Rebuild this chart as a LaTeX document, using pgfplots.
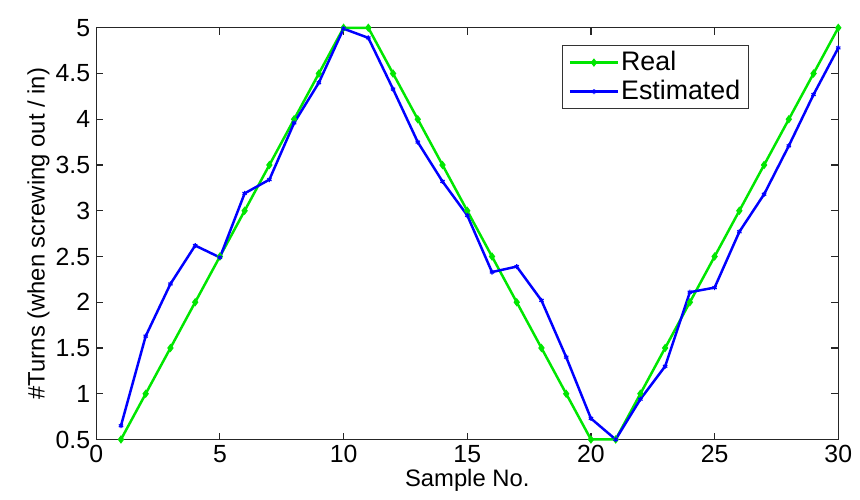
\documentclass[border=0pt]{standalone}
\usepackage{fontspec}
\setmainfont{Liberation Sans}
\usepackage{pgfplots}
\pgfplotsset{compat=1.18}
\definecolor{mgreen}{RGB}{0,230,0}
\definecolor{mblue}{RGB}{0,0,255}
\begin{document}
\fontsize{24}{28}\selectfont
\begin{tikzpicture}
\path (-97pt,-59pt) rectangle (763pt,443pt);
\begin{axis}[
  at={(0pt,0pt)}, anchor=south west,
  scale only axis, width=748pt, height=415pt,
  xmin=0, xmax=30, ymin=0.5, ymax=5,
  xtick={0,5,...,30},
  ytick={0.5,1,...,5},
  yticklabels={0.5,1,1.5,2,2.5,3,3.5,4,4.5,5},
  tick align=inside, major tick length=7pt,
  xtick pos=both, ytick pos=both,
  axis line style={line width=1.2pt, black!85},
  tick style={line width=1.2pt, black!85},
  /pgf/number format/assume math mode=true,
  tick label style={font=\fontsize{25}{29}\selectfont},
  label style={font=\fontsize{24}{28}\selectfont},
  xlabel={Sample No.},
  ylabel={\#Turns (when screwing out / in)},
  xlabel style={yshift=10pt},
  ylabel style={yshift=-10pt},
  xticklabel style={yshift=2pt},
  yticklabel style={xshift=2pt},
  legend style={at={(0.628,0.959)}, anchor=north west, font=\fontsize{27}{31}\selectfont, draw=black!80, line width=1pt, inner xsep=6pt, inner ysep=4pt, row sep=2pt},
  legend cell align=left,
  legend image post style={line width=2.5pt},
  legend image code/.code={\draw[#1] (0cm,0cm) -- (1.7cm,0cm) plot[only marks] coordinates {(0.85cm,0cm)};},
  clip=false,
]
\addplot[mgreen, line width=2.5pt, mark=diamond*, mark size=3.5pt, mark options={line width=1pt}] coordinates {
(1,0.5)(2,1)(3,1.5)(4,2)(5,2.5)(6,3)(7,3.5)(8,4)(9,4.5)(10,5)
(11,5)(12,4.5)(13,4)(14,3.5)(15,3)(16,2.5)(17,2)(18,1.5)(19,1)(20,0.5)
(21,0.5)(22,1)(23,1.5)(24,2)(25,2.5)(26,3)(27,3.5)(28,4)(29,4.5)(30,5)};
\addlegendentry{Real}
\addplot[mblue, line width=2.5pt, mark=asterisk, mark size=2.5pt, mark options={line width=1.2pt}] coordinates {
(1,0.65)(2,1.63)(3,2.20)(4,2.62)(5,2.49)(6,3.19)(7,3.34)(8,3.96)(9,4.40)(10,4.99)
(11,4.89)(12,4.33)(13,3.75)(14,3.32)(15,2.95)(16,2.33)(17,2.39)(18,2.02)(19,1.40)(20,0.73)
(21,0.50)(22,0.94)(23,1.30)(24,2.11)(25,2.16)(26,2.77)(27,3.18)(28,3.71)(29,4.27)(30,4.78)};
\addlegendentry{Estimated}
\end{axis}
\end{tikzpicture}
\end{document}
